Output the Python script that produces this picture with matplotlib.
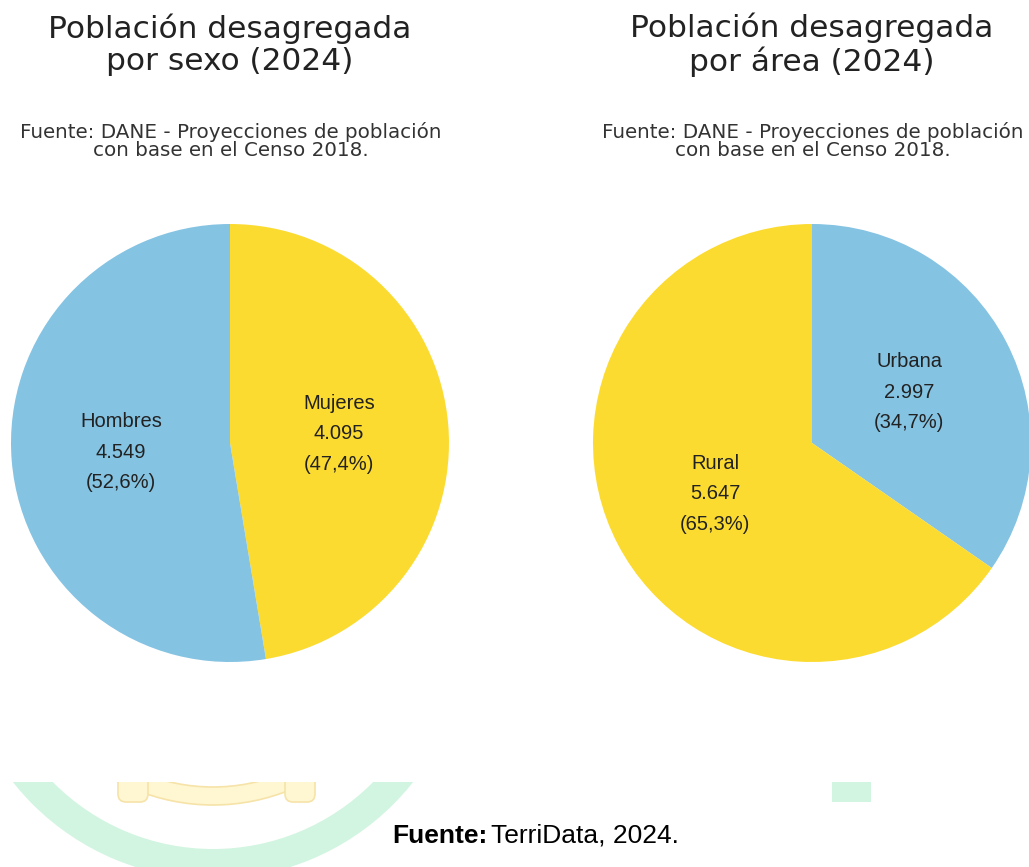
import matplotlib
matplotlib.use("Agg")
import matplotlib.pyplot as plt
from matplotlib import font_manager
from matplotlib.patches import Wedge, Rectangle, FancyBboxPatch

# data
sexo_labels = ["Mujeres", "Hombres"]
sexo_values = [4095, 4549]
sexo_pct = ["47,4%", "52,6%"]

area_labels = ["Urbana", "Rural"]
area_values = [2997, 5647]
area_pct = ["34,7%", "65,3%"]

titles = ["Población desagregada\npor sexo (2024)", "Población desagregada\npor área (2024)"]
subtitle = "Fuente: DANE - Proyecciones de población\ncon base en el Censo 2018."

blue = "#85C3E3"
yellow = "#FCDB31"
mint = "#D1F5E0"

W, H = 1029, 867
fig = plt.figure(figsize=(W / 100, H / 100), dpi=100)

names = {f.name for f in font_manager.fontManager.ttflist}
narrow = "Liberation Sans Narrow" if "Liberation Sans Narrow" in names else "Liberation Sans"

# background overlay in pixel coords
bg = fig.add_axes([0, 0, 1, 1])
bg.set_xlim(0, W)
bg.set_ylim(H, 0)
bg.axis("off")

# faint watermark pieces under the charts
clip = Rectangle((0, 782), W, H - 782, transform=bg.transData, visible=False)
bg.add_patch(clip)
ring = Wedge((213, 624), 255, 0, 360, width=30, color=mint, lw=0)
bg.add_patch(ring)
ring.set_clip_path(clip)
banner = Wedge((213, 600), 205, 45, 135, width=18, facecolor="#FFF6D2",
               edgecolor="#F6E3A8", lw=1.2)
bg.add_patch(banner)
banner.set_clip_path(clip)
for x0 in (118, 285):
    end = FancyBboxPatch((x0, 770), 30, 32, boxstyle="round,pad=0,rounding_size=8",
                         facecolor="#FFF6D2", edgecolor="#F6E3A8", lw=1.2)
    bg.add_patch(end)
    end.set_clip_path(clip)
bg.add_patch(Rectangle((832, 782), 39, 20, color=mint, lw=0))


def draw_pie(cx, labels, values, pct, colors):
    r = 219
    cy = 443
    ax = fig.add_axes([(cx - r) / W, (H - cy - r) / H, 2 * r / W, 2 * r / H])
    texts = [f"{l}\n{v / 1000:.3f}\n({p})" for l, v, p in zip(labels, values, pct)]
    ax.pie(values, labels=texts, colors=colors, startangle=90,
           counterclock=False, labeldistance=0.5, radius=1,
           wedgeprops=dict(lw=0),
           textprops=dict(ha="center", va="center", fontsize=14.5,
                          family="Liberation Sans", color="#222222",
                          linespacing=1.78))
    ax.set_xlim(-1, 1)
    ax.set_ylim(-1, 1)
    ax.set_aspect("equal")
    ax.axis("off")


draw_pie(230, sexo_labels, sexo_values, sexo_pct, [yellow, blue])
draw_pie(812, area_labels, area_values, area_pct, [blue, yellow])

for cx, t in zip([230, 812], titles):
    bg.text(cx, 45, t, ha="center", va="center", fontsize=22.5,
            family="DejaVu Sans", color="#222222", linespacing=1.15)
    bg.text(cx + 1, 141, subtitle, ha="center", va="center", fontsize=14.3,
            family="DejaVu Sans", color="#333333", linespacing=1.0)

bg.text(487, 836, "Fuente:", ha="right", va="center", fontsize=19,
        family=narrow, fontweight="bold", color="black")
bg.text(491, 836, "TerriData, 2024.", ha="left", va="center", fontsize=19,
        family=narrow, color="black")

fig.savefig("out.png", dpi=100)
